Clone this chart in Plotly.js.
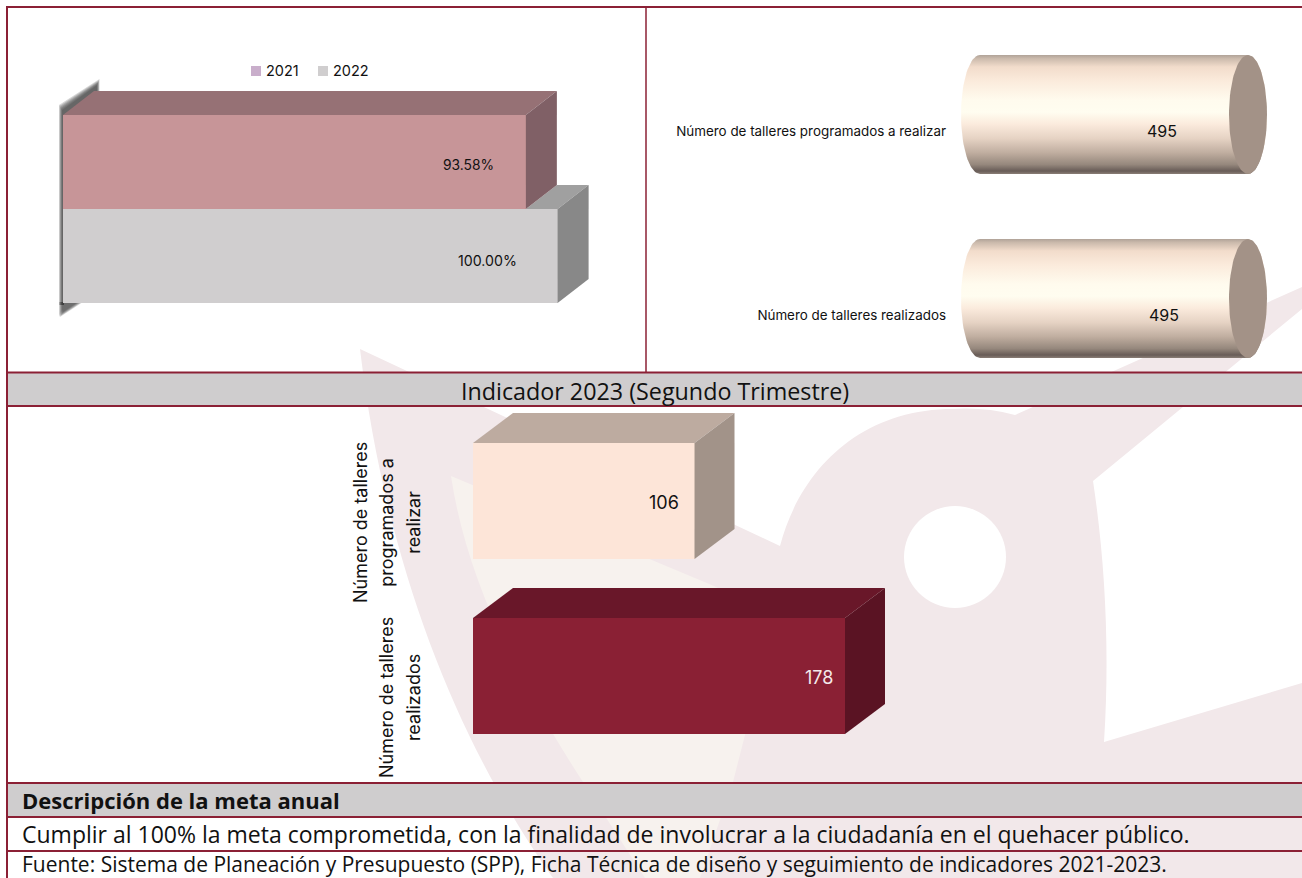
<!DOCTYPE html>
<html lang="es">
<head>
<meta charset="utf-8">
<title>Indicador 2023</title>
<script src="https://cdn.plot.ly/plotly-3.0.1.min.js"></script>
<style>html,body{margin:0;padding:0;background:#fff}#chart{width:1302px;height:878px}</style>
</head>
<body>
<div id="chart"></div>
<script>
// ---------- data ----------
const years = ['2021', '2022'];
const cumplimiento = [93.58, 100];
const cumplimientoLabels = ['93.58%', '100.00%'];
const tallerLabels = ['Número de talleres programados a realizar', 'Número de talleres realizados'];
const tallerLabelsWrapped = [['Número de talleres', 'programados a', 'realizar'], ['Número de talleres', 'realizados']];
const talleresAnual = [495, 495];
const talleres2023 = [106, 178];
const headerIndicador = 'Indicador 2023 (Segundo Trimestre)';
const headerMeta = 'Descripción de la meta anual';
const textoMeta = 'Cumplir al 100% la meta comprometida, con la finalidad de involucrar a la ciudadanía en el quehacer público.';
const textoFuente = 'Fuente: Sistema de Planeación y Presupuesto (SPP), Ficha Técnica de diseño y seguimiento de indicadores 2021-2023.';

// ---------- page helpers ----------
const W = 1302, H = 878;
const WINE = '#8b2035', BAND = '#cfcdce', PINK = '#f2e8ea', CREAM = '#f7f2ee';
const CHART_FONT = 'Inter, "Open Sans", sans-serif';
const TABLE_FONT = '"Open Sans", Lato, sans-serif';

function xAxisFor(pxLo, pxHi, zeroPx, pxPerUnit) {
  return { domain: [pxLo / W, pxHi / W], range: [(pxLo - zeroPx) / pxPerUnit, (pxHi - zeroPx) / pxPerUnit], visible: false, fixedrange: true };
}
function yAxisFor(pxTop, pxBottom, zeroPx, pxPerUnit) {
  return { domain: [1 - pxBottom / H, 1 - pxTop / H], range: [(pxBottom - zeroPx) / pxPerUnit, (pxTop - zeroPx) / pxPerUnit], fixedrange: true };
}
function poly(xa, ya, xs, ys, color) {
  return { type: 'scatter', xaxis: xa, yaxis: ya, x: xs, y: ys, mode: 'lines', line: { width: 0 }, fill: 'toself', fillcolor: color, hoverinfo: 'skip', showlegend: false };
}
function pathPx(cmds) { // "M x y L x y ..." in page pixels -> paper fractions
  return cmds.replace(/(-?[\d.]+) (-?[\d.]+)/g, (m, x, y) => (x / W).toFixed(5) + ' ' + (1 - y / H).toFixed(5));
}
function shapePath(cmds, fill, opacity) {
  return { type: 'path', xref: 'paper', yref: 'paper', path: pathPx(cmds), fillcolor: fill, opacity: opacity === undefined ? 1 : opacity, line: { width: 0 }, layer: 'below' };
}
function rectPx(x0, y0, x1, y1, fill) {
  return { type: 'rect', xref: 'paper', yref: 'paper', x0: x0 / W, x1: x1 / W, y0: 1 - y1 / H, y1: 1 - y0 / H, fillcolor: fill, line: { width: 0 }, layer: 'below' };
}
function rule(x0, y0, x1, y1, width) {
  return { type: 'line', xref: 'paper', yref: 'paper', x0: x0 / W, x1: x1 / W, y0: 1 - y0 / H, y1: 1 - y1 / H, line: { color: WINE, width: width }, layer: 'below' };
}
function paperText(x, y, text, size, anchor, bold) {
  return { xref: 'paper', yref: 'paper', x: x / W, y: 1 - y / H, text: bold ? '<b>' + text + '</b>' : text, showarrow: false, xanchor: anchor, yanchor: 'middle', font: { family: TABLE_FONT, size: size, color: '#111' } };
}

// ---------- chart 1: 2021 / 2022 ----------
const c1 = { pxU: 4.946, zero: 63, yU: 94, yZero: 162, dx: 31, dy: -24 };
const c1dx = c1.dx / c1.pxU, c1dy = c1.dy / c1.yU;
const c1Colors = [{ front: '#c79598', top: '#967175', side: '#806066' }, { front: '#d0cecf', top: '#a0a0a0', side: '#888888' }];
const traces = [];
// 2022 first, its top face only shows beyond the end of the 2021 bar
(function () {
  const v21 = cumplimiento[0], v22 = cumplimiento[1];
  traces.push({ type: 'bar', orientation: 'h', xaxis: 'x', yaxis: 'y', name: years[1], x: [v22], y: [1], width: 1, marker: { color: c1Colors[1].front }, showlegend: false });
  traces.push({ type: 'bar', orientation: 'h', xaxis: 'x', yaxis: 'y', name: years[0], x: [v21], y: [0], width: 1, marker: { color: c1Colors[0].front }, showlegend: false });
  traces.push(poly('x', 'y', [v21, v22, v22 + c1dx, v21 + c1dx], [0.5, 0.5, 0.5 + c1dy, 0.5 + c1dy], c1Colors[1].top));
  traces.push(poly('x', 'y', [v22, v22 + c1dx, v22 + c1dx, v22], [0.5, 0.5 + c1dy, 1.5 + c1dy, 1.5], c1Colors[1].side));
  traces.push(poly('x', 'y', [0, v21, v21 + c1dx, c1dx], [-0.5, -0.5, -0.5 + c1dy, -0.5 + c1dy], c1Colors[0].top));
  traces.push(poly('x', 'y', [v21, v21 + c1dx, v21 + c1dx, v21], [-0.5, -0.5 + c1dy, 0.5 + c1dy, 0.5], c1Colors[0].side));
})();

// ---------- chart 2: cylinders ----------
const c2 = { pxU: 268 / 495, zero: 980, yU: 184, yZero: 131, rx: 19, centre: -16.5, half: 59.5 };
const GRAD = [[0, '#b0a398'], [0.03, '#cbbaac'], [0.1, '#f2dccb'], [0.22, '#fbebdc'], [0.38, '#fffbee'], [0.48, '#fffdf0'], [0.58, '#fbebdd'], [0.7, '#e6d3c4'], [0.82, '#c0aea0'], [0.92, '#96887d'], [0.975, '#685c57'], [1, '#8a7e76']];
talleresAnual.forEach((v, i) => {
  const rxU = c2.rx / c2.pxU, cy = i + c2.centre / c2.yU, ry = c2.half / c2.yU;
  const xs = [], ys = [];
  for (let k = 0; k <= 48; k++) { const a = Math.PI / 2 + Math.PI * k / 48; xs.push(rxU * Math.cos(a)); ys.push(cy + ry * Math.sin(a)); }
  for (let k = 0; k <= 48; k++) { const a = -Math.PI / 2 + Math.PI * k / 48; xs.push(v + rxU * Math.cos(a)); ys.push(cy + ry * Math.sin(a)); }
  const body = poly('x2', 'y2', xs, ys, '#fdeee0');
  body.fillgradient = { type: 'vertical', colorscale: GRAD, start: cy - ry, stop: cy + ry };
  body.name = tallerLabels[i];
  traces.push(body);
  const cx = [], cyy = [];
  for (let k = 0; k <= 96; k++) { const a = 2 * Math.PI * k / 96; cx.push(v + rxU * Math.cos(a)); cyy.push(cy + ry * Math.sin(a)); }
  traces.push(poly('x2', 'y2', cx, cyy, '#a39287'));
});

// ---------- chart 3: 2023 ----------
const c3 = { pxU: 372 / 178, zero: 473, yU: 175, yZero: 525.5, dx: 40, dy: -30, barTop: -82.5, barH: 116 };
const c3Colors = [{ front: '#fde5d8', top: '#bdaba0', side: '#a29389' }, { front: '#8a2034', top: '#691729', side: '#5a1323' }];
traces.push({ type: 'bar', orientation: 'h', xaxis: 'x3', yaxis: 'y3', x: talleres2023, y: talleres2023.map((_, i) => i), width: c3.barH / c3.yU, offset: c3.barTop / c3.yU, marker: { color: c3Colors.map(c => c.front) }, showlegend: false, name: 'Indicador 2023' });
talleres2023.forEach((v, i) => {
  const dx = c3.dx / c3.pxU, dy = c3.dy / c3.yU, t = i + c3.barTop / c3.yU, b = t + c3.barH / c3.yU;
  traces.push(poly('x3', 'y3', [0, v, v + dx, dx], [t, t, t + dy, t + dy], c3Colors[i].top));
  traces.push(poly('x3', 'y3', [v, v + dx, v + dx, v], [t, t + dy, b + dy, b], c3Colors[i].side));
});

// ---------- decoration: watermark, table ----------
const shapes = [
  shapePath('M 360 349 L 780 546 C 800 470 860 409 953 409 Q 985 407 1015 415 L 1302 287 L 1302 309 L 1093 481 C 1105 560 1110 650 1104 742 L 1302 683 L 1302 878 L 553 878 C 455 740 385 560 360 349 Z', PINK),
  shapePath('M 451 476 L 714 586 L 765 612 L 745 735 L 733 782 L 700 878 L 645 878 L 583 782 C 510 670 465 570 451 476 Z', CREAM)
];
shapes.push({ type: 'circle', xref: 'paper', yref: 'paper', x0: 904 / W, x1: 1006 / W, y0: 1 - 608 / H, y1: 1 - 506 / H, fillcolor: '#fff', line: { width: 0 }, layer: 'below' });
// soft shadow behind the 2021/2022 bars, built from stacked translucent layers
[5, 4, 3, 2, 1, 0].forEach(s => {
  const lx = 62 - s * 0.6;
  shapes.push(shapePath(`M 64 115 L ${lx} 115 L ${lx} ${110 - s} L ${97 + s * 0.5} ${85 - s * 1.2} L ${97 + s * 0.5} 92 Z`, '#333', 0.2));
  shapes.push(shapePath(`M 64 115 L ${lx} 115 L ${lx} 305 L 64 305 Z`, '#333', 0.2));
  shapes.push(shapePath(`M ${lx} 302 L ${78 + s} 302 L ${lx + 1} ${312 + s} L ${lx} ${310 + s} Z`, '#333', 0.18));
});
shapes.push(
  rectPx(8, 373, W, 406, BAND),
  rectPx(8, 783, W, 817, BAND),
  rule(6, 7, W, 7, 2),
  rule(7, 6, 7, H, 2),
  rule(646, 7, 646, 372, 1.5),
  rule(6, 372.5, W, 372.5, 2),
  rule(6, 406, W, 406, 2),
  rule(6, 783, W, 783, 2),
  rule(6, 817, W, 817, 2),
  rule(6, 851, W, 851, 2),
  // legend swatches
  rectPx(251, 66, 261, 76, '#c9aecb'),
  rectPx(318, 66, 328, 76, '#d0cecf')
);

// ---------- annotations ----------
const annotations = [
  paperText(655, 391, headerIndicador, 23.3, 'center'),
  paperText(20, 800, headerMeta, 22, 'left', true),
  paperText(20, 833.5, textoMeta, 23, 'left'),
  paperText(20, 863.5, textoFuente, 21, 'left')
];
function chartLabel(x, y, xr, yr, text, xshift, yshift, size, color) {
  return { x: x, y: y, xref: xr, yref: yr, text: text, showarrow: false, xanchor: 'right', yanchor: 'middle', xshift: xshift, yshift: yshift, font: { family: CHART_FONT, size: size, color: color || '#111' } };
}
annotations.push({ xref: 'paper', yref: 'paper', x: 264 / W, y: 1 - 71 / H, text: years[0], showarrow: false, xanchor: 'left', yanchor: 'middle', font: { family: CHART_FONT, size: 14.5, color: '#111' } });
annotations.push({ xref: 'paper', yref: 'paper', x: 331 / W, y: 1 - 71 / H, text: years[1], showarrow: false, xanchor: 'left', yanchor: 'middle', font: { family: CHART_FONT, size: 14.5, color: '#111' } });
annotations.push(chartLabel(cumplimiento[0], 0, 'x', 'y', cumplimientoLabels[0], -30, -3, 13.8));
annotations.push(chartLabel(cumplimiento[1], 1, 'x', 'y', cumplimientoLabels[1], -38.5, -4, 14.2));
talleresAnual.forEach((v, i) => annotations.push(chartLabel(v, i, 'x2', 'y2', String(v), -69 + i * 2, 0, 16)));
talleres2023.forEach((v, i) => annotations.push(chartLabel(v, i, 'x3', 'y3', String(v), i ? -10 : -14, 23.5, 18, i ? '#f4e9ea' : '#111')));

// ---------- layout ----------
const layout = {
  width: W, height: H, margin: { l: 0, r: 0, t: 0, b: 0, pad: 0 },
  paper_bgcolor: '#fff', plot_bgcolor: 'rgba(0,0,0,0)', showlegend: false, bargap: 0, barmode: 'overlay', hovermode: false,
  xaxis: Object.assign(xAxisFor(20, 640, c1.zero, c1.pxU), { anchor: 'y' }),
  yaxis: Object.assign(yAxisFor(60, 330, c1.yZero, c1.yU), { anchor: 'x', visible: false }),
  xaxis2: Object.assign(xAxisFor(947, 1295, c2.zero, c2.pxU), { anchor: 'y2' }),
  yaxis2: Object.assign(yAxisFor(30, 368, c2.yZero, c2.yU), { anchor: 'x2', tickmode: 'array', tickvals: [0, 1], ticktext: tallerLabels, ticklen: 0, showline: false, showgrid: false, zeroline: false, tickfont: { family: CHART_FONT, size: 13.4, color: '#111' } }),
  xaxis3: Object.assign(xAxisFor(425, 920, c3.zero, c3.pxU), { anchor: 'y3' }),
  yaxis3: Object.assign(yAxisFor(408, 780, c3.yZero, c3.yU), { anchor: 'x3', tickmode: 'array', tickvals: [0, 1], tickangle: -90, ticklen: 0, showline: false, showgrid: false, zeroline: false,
    ticktext: tallerLabelsWrapped.map(lines => lines.map(l => '<span style="font-size:18px">' + l + '</span>').join('<br>')),
    tickfont: { family: CHART_FONT, size: 20.5, color: '#111' } }),
  shapes: shapes,
  annotations: annotations
};
Plotly.newPlot('chart', traces, layout, { displayModeBar: false, responsive: false });
</script>
</body>
</html>
